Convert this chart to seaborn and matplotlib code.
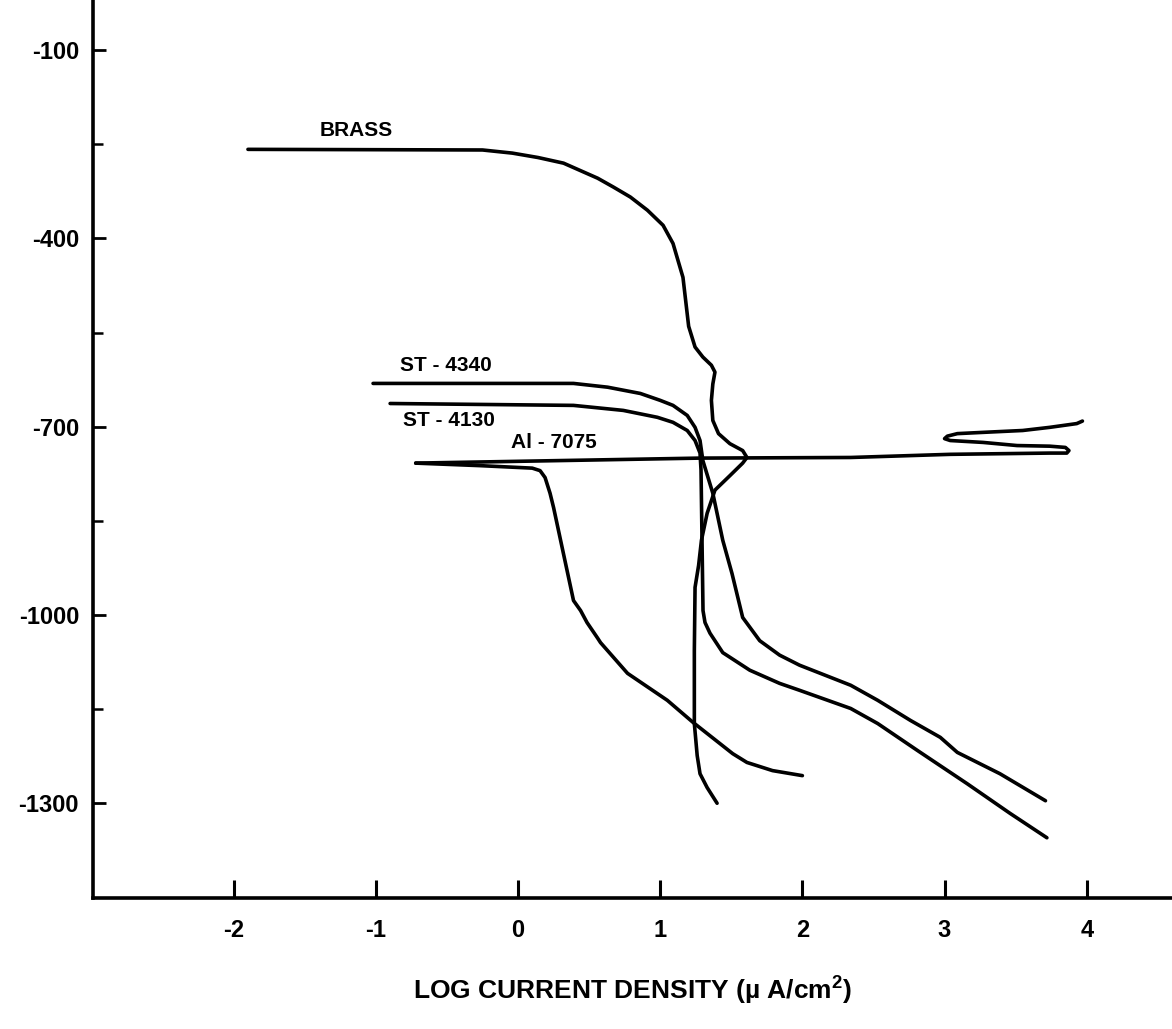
import matplotlib
matplotlib.use("Agg")
import matplotlib.pyplot as plt
import seaborn as sns

# ---- data (log current density, potential mV) ----
brass_x = [-1.90, -0.25, -0.04, 0.14, 0.32, 0.56, 0.67, 0.79, 0.91, 1.02, 1.09, 1.16, 1.20,
           1.245, 1.30, 1.36, 1.385, 1.37, 1.36, 1.37, 1.41, 1.49, 1.58, 1.61, 1.58, 1.49,
           1.385, 1.33, 1.29, 1.27, 1.245, 1.24, 1.24, 1.26, 1.28, 1.33, 1.40]
brass_y = [-258, -259, -264, -271, -280, -304, -318, -334, -355, -379, -408, -462, -540,
           -573, -589, -602, -613, -632, -658, -690, -711, -727, -738, -749, -758, -778,
           -801, -838, -881, -921, -956, -1057, -1173, -1224, -1253, -1275, -1300]

st4340_x = [-1.02, 0.39, 0.63, 0.86, 1.00, 1.09, 1.19, 1.245, 1.28, 1.30, 1.37, 1.44, 1.505,
            1.58, 1.70, 1.84, 1.98, 2.16, 2.34, 2.53, 2.76, 2.97, 3.09, 3.39, 3.71]
st4340_y = [-631, -631, -637, -647, -658, -666, -682, -701, -722, -754, -806, -881, -934,
            -1004, -1041, -1064, -1080, -1096, -1112, -1136, -1168, -1195, -1219, -1253, -1296]

st4130_x = [-0.90, 0.39, 0.74, 0.98, 1.09, 1.19, 1.245, 1.28, 1.287, 1.294, 1.301, 1.315,
            1.35, 1.44, 1.63, 1.84, 1.98, 2.34, 2.53, 2.81, 3.16, 3.46, 3.72]
st4130_y = [-663, -666, -674, -685, -693, -706, -722, -742, -769, -881, -993, -1012,
            -1029, -1060, -1088, -1109, -1120, -1149, -1173, -1216, -1269, -1316, -1355]

al_anodic_x = [-0.72, 1.28, 2.34, 3.04, 3.74, 3.86, 3.875, 3.85, 3.74, 3.51, 3.27, 3.04,
               3.00, 3.02, 3.09, 3.27, 3.55, 3.74, 3.93, 3.97]
al_anodic_y = [-758, -750, -749, -744, -742, -742, -738, -733, -731, -730, -725, -722,
               -719, -715, -711, -709, -706, -701, -695, -691]

al_cathodic_x = [-0.72, -0.27, 0.10, 0.155, 0.19, 0.225, 0.25, 0.39, 0.44, 0.485, 0.56,
                 0.58, 0.77, 1.05, 1.23, 1.51, 1.61, 1.79, 2.00]
al_cathodic_y = [-758, -762, -766, -770, -781, -806, -829, -977, -993, -1012, -1037,
                 -1044, -1093, -1136, -1171, -1221, -1235, -1248, -1256]

x_ticks = [-2, -1, 0, 1, 2, 3, 4]
x_tick_labels = ["-2", "-1", "0", "1", "2", "3", "4"]
y_ticks = [-100, -400, -700, -1000, -1300]
y_tick_labels = ["-100", "-400", "-700", "-1000", "-1300"]
y_minor_ticks = [-250, -550, -850, -1150]

labels = ["BRASS", "ST - 4340", "ST - 4130", "Al - 7075"]
label_x = [-1.14, -0.51, -0.485, 0.25]
label_y = [-228, -602, -690, -725]

x_label = "LOG CURRENT DENSITY (µ A/cm$^{\\mathbf{2}}$)"

# ---- style ----
sns.set_style("ticks")
plt.rcParams.update({
    "font.family": ["Liberation Sans", "DejaVu Sans"],
    "font.weight": "bold",
    "axes.unicode_minus": False,
    "mathtext.fontset": "custom",
    "mathtext.rm": "Liberation Sans:bold",
    "mathtext.bf": "Liberation Sans:bold",
    "mathtext.it": "Liberation Sans:bold:italic",
})

fig = plt.figure(figsize=(11.72, 10.29), dpi=100)
ax = fig.add_axes([93 / 1172, 131 / 1029, 1079 / 1172, 898 / 1029])

curves = [(brass_x, brass_y), (st4340_x, st4340_y), (st4130_x, st4130_y),
          (al_anodic_x, al_anodic_y), (al_cathodic_x, al_cathodic_y)]
for xs, ys in curves:
    line_ax = sns.lineplot(x=xs, y=ys, sort=False, estimator=None, color="black",
                           lw=2.6, ax=ax)
for ln in ax.get_lines():
    ln.set_solid_joinstyle("round")
    ln.set_solid_capstyle("round")

for t, lx, ly in zip(labels, label_x, label_y):
    ax.text(lx, ly, t, ha="center", va="center", fontsize=15, fontweight="bold", color="black")

ax.set_xlim(-2.99, 4.6)
ax.set_ylim(-1451, -20)
sns.despine(ax=ax)
for s in ["left", "bottom"]:
    ax.spines[s].set_linewidth(2.6)
    ax.spines[s].set_color("black")

ax.set_xticks(x_ticks)
ax.set_xticklabels(x_tick_labels)
ax.set_yticks(y_ticks)
ax.set_yticklabels(y_tick_labels)
ax.set_yticks(y_minor_ticks, minor=True)

ax.tick_params(axis="x", direction="in", length=13, width=2.2, pad=15, labelsize=17, colors="black")
ax.tick_params(axis="y", which="major", direction="in", length=9, width=2, pad=10, labelsize=17, colors="black")
ax.tick_params(axis="y", which="minor", direction="in", length=7, width=1.8, colors="black")
for lab in ax.get_xticklabels() + ax.get_yticklabels():
    lab.set_fontweight("bold")

ax.set_xlabel(x_label, fontsize=19, fontweight="bold", color="black")
ax.xaxis.set_label_coords(0.5, -0.085)
ax.set_ylabel("")

fig.savefig("out.png", dpi=100)
